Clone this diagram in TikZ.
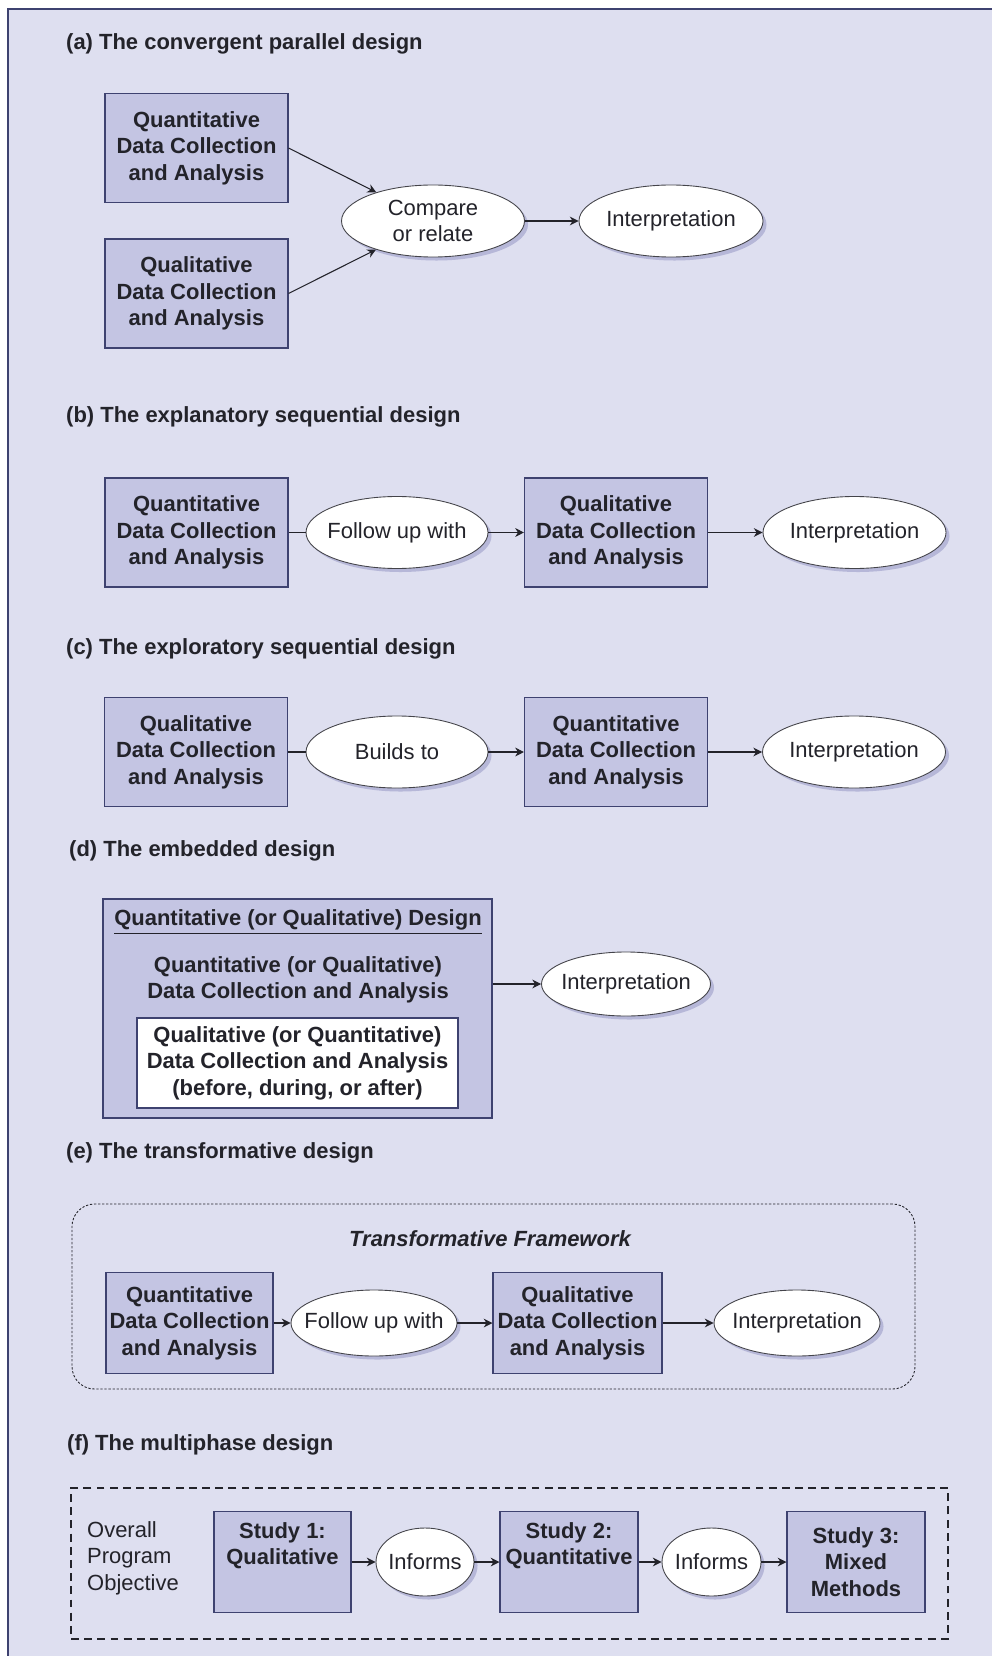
\documentclass[tikz,border=0pt]{standalone}
\usepackage{fontspec}
\setmainfont{Liberation Sans}
\usetikzlibrary{calc,shapes.geometric,arrows.meta,shadows}

\definecolor{pagebg}{RGB}{222,223,240}
\definecolor{boxfill}{RGB}{196,197,227}
\definecolor{boxline}{RGB}{62,66,112}
\definecolor{inkc}{RGB}{35,35,42}
\definecolor{shade}{RGB}{182,183,216}

\begin{document}
\begin{tikzpicture}[font=\fontsize{12.5}{15.1}\selectfont, text=inkc,
  databox/.style={rectangle, draw=boxline, line width=0.6pt, fill=boxfill,
    font=\fontsize{12.5}{15.1}\selectfont\bfseries, align=center,
    minimum width=3.66cm, minimum height=2.18cm, inner sep=0pt},
  oval/.style={ellipse, draw=inkc!85, line width=0.5pt, fill=white, align=center,
    inner xsep=-1cm, inner ysep=-0.3cm, minimum width=3.64cm, minimum height=1.44cm,
    drop shadow={shadow xshift=2pt, shadow yshift=-2pt, fill=shade, opacity=1}},
  heading/.style={anchor=west, font=\fontsize{12.5}{15.1}\selectfont\bfseries},
  flow/.style={draw=inkc, line width=0.6pt, -{Stealth[length=5pt,width=5pt]}},
  link/.style={draw=inkc, line width=0.6pt},
]
\useasboundingbox (0,0) rectangle (19.84,-33.12);
\fill[white] (0,0) rectangle (19.84,-33.12);
\fill[pagebg] (0.16,-0.18) rectangle (19.84,-33.12);
\draw[boxline, line width=0.6pt] (0.16,-33.12) -- (0.16,-0.18) -- (19.84,-0.18);

\coordinate (rowA) at (0,-4.42);
\coordinate (rowB) at (0,-10.65);
\coordinate (rowC) at (0,-15.04);
\coordinate (rowD) at (0,-19.68);
\coordinate (rowE) at (0,-26.46);
\coordinate (rowF) at (0,-31.24);

% (a)
\node[heading] (titA) at (1.2,-0.88) {(a) The convergent parallel design};
\node[databox] (quanA) at ($(rowA) + (3.93,1.46)$) {Quantitative\\Data Collection\\and Analysis};
\node[databox] (qualA) at ($(rowA) + (3.93,-1.45)$) {Qualitative\\Data Collection\\and Analysis};
\node[oval, minimum width=3.66cm] (cmpA) at ($(rowA) + (8.66,0)$) {Compare\\or relate};
\node[oval, minimum width=3.68cm] (intA) at ($(rowA) + (13.42,0)$) {Interpretation};

\draw[flow] (quanA.east) -- (cmpA);
\draw[flow] (qualA.east) -- (cmpA);
\draw[flow] (cmpA) -- (intA);

% (b)
\node[heading] (titB) at (1.2,-8.34) {(b) The explanatory sequential design};
\node[databox] (quanB) at ($(rowB) + (3.93,0)$) {Quantitative\\Data Collection\\and Analysis};
\node[oval] (folB) at ($(rowB) + (7.94,0)$) {Follow up with};
\node[databox] (qualB) at ($(rowB) + (12.32,0)$) {Qualitative\\Data Collection\\and Analysis};
\node[oval, minimum width=3.66cm] (intB) at ($(rowB) + (17.09,0)$) {Interpretation};

\draw[link] (quanB) -- (folB);
\draw[flow] (folB) -- (qualB);
\draw[flow] (qualB) -- (intB);

% (c)
\node[heading] (titC) at (1.2,-12.98) {(c) The exploratory sequential design};
\node[databox] (qualC) at ($(rowC) + (3.92,0)$) {Qualitative\\Data Collection\\and Analysis};
\node[oval] (bldC) at ($(rowC) + (7.94,0)$) {Builds to};
\node[databox] (quanC) at ($(rowC) + (12.32,0)$) {Quantitative\\Data Collection\\and Analysis};
\node[oval, minimum width=3.66cm] (intC) at ($(rowC) + (17.08,0)$) {Interpretation};

\draw[link] (qualC) -- (bldC);
\draw[flow] (bldC) -- (quanC);
\draw[flow] (quanC) -- (intC);

% (d)
\node[heading] (titD) at (1.26,-17.02) {(d) The embedded design};
\node[databox, minimum width=7.78cm, minimum height=4.38cm] (embD) at ($(rowD) + (5.95,-0.49)$) {};
\node[font=\fontsize{12.5}{15.1}\selectfont\bfseries] (hdrD) at ($(rowD) + (5.96,1.24)$)
  {\underline{Quantitative (or Qualitative) Design}};
\node[font=\fontsize{12.5}{15.1}\selectfont\bfseries, align=center] (txtD) at ($(rowD) + (5.96,0.08)$)
  {Quantitative (or Qualitative)\\Data Collection and Analysis};
\node[databox, fill=white, minimum width=6.42cm, minimum height=1.8cm] (inD) at ($(rowD) + (5.95,-1.58)$)
  {Qualitative (or Quantitative)\\Data Collection and Analysis\\(before, during, or after)};
\node[oval, minimum width=3.38cm, minimum height=1.28cm] (intD) at ($(rowD) + (12.52,0)$) {Interpretation};

\draw[flow] (embD.east |- intD) -- (intD);

% (e)
\node[heading] (titE) at (1.2,-23.06) {(e) The transformative design};
\node[draw=inkc, line width=0.5pt, dash pattern=on 1.3pt off 1pt, rounded corners=0.45cm,
  minimum width=16.86cm, minimum height=3.7cm] (frmE) at (9.87,-25.93) {};
\node[font=\fontsize{12.5}{15.1}\selectfont\bfseries\itshape] (tfE) at (9.8,-24.78) {Transformative Framework};
\node[databox, minimum width=3.34cm, minimum height=2.02cm] (quanE) at ($(rowE) + (3.79,0)$) {Quantitative\\Data Collection\\and Analysis};
\node[oval, minimum width=3.32cm, minimum height=1.32cm] (folE) at ($(rowE) + (7.48,0)$) {Follow up with};
\node[databox, minimum width=3.38cm, minimum height=2.02cm] (qualE) at ($(rowE) + (11.55,0)$) {Qualitative\\Data Collection\\and Analysis};
\node[oval, minimum width=3.32cm, minimum height=1.32cm] (intE) at ($(rowE) + (15.94,0)$) {Interpretation};

\draw[flow] (quanE) -- (folE);
\draw[flow] (folE) -- (qualE);
\draw[flow] (qualE) -- (intE);

% (f)
\node[heading] (titF) at (1.22,-28.9) {(f) The multiphase design};
\node[draw=inkc, line width=0.6pt, dash pattern=on 4.5pt off 3pt,
  minimum width=17.54cm, minimum height=3.02cm] (frmF) at (10.19,-31.27) {};
\node[anchor=west, align=left] (objF) at ($(rowF) + (1.62,0.08)$) {Overall\\Program\\Objective};
\node[databox, minimum width=2.74cm, minimum height=2.02cm] (s1F) at ($(rowF) + (5.65,0)$) {Study 1:\\Qualitative\\[6pt]\mbox{}};
\node[oval, minimum width=1.96cm, minimum height=1.36cm] (infF1) at ($(rowF) + (8.5,0)$) {Informs};
\node[databox, minimum width=2.76cm, minimum height=2.02cm] (s2F) at ($(rowF) + (11.38,0)$) {Study 2:\\Quantitative\\[6pt]\mbox{}};
\node[oval, minimum width=1.98cm, minimum height=1.36cm] (infF2) at ($(rowF) + (14.23,0)$) {Informs};
\node[databox, minimum width=2.76cm, minimum height=2.02cm] (s3F) at ($(rowF) + (17.12,0)$) {Study 3:\\Mixed\\Methods};

\draw[flow] (s1F) -- (infF1);
\draw[flow] (infF1) -- (s2F);
\draw[flow] (s2F) -- (infF2);
\draw[flow] (infF2) -- (s3F);

\end{tikzpicture}
\end{document}
